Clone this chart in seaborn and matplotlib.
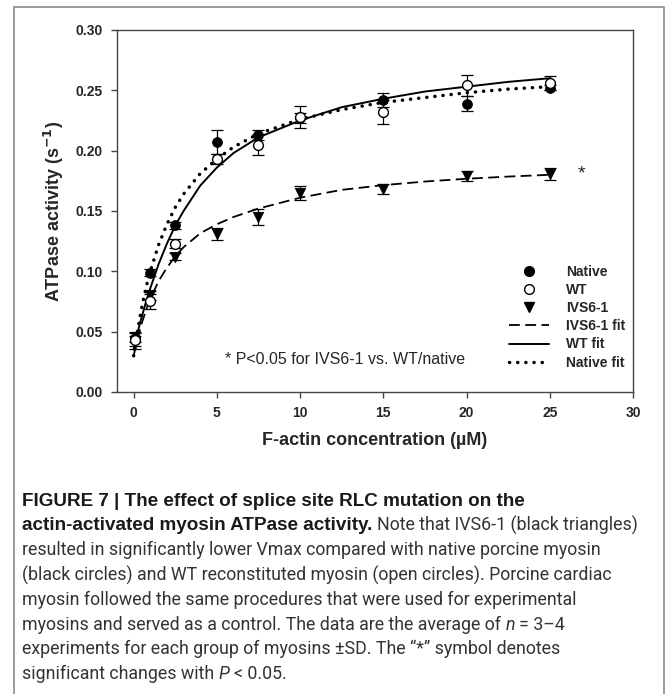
import numpy as np
import pandas as pd
import matplotlib
matplotlib.use("Agg")
import matplotlib.pyplot as plt
import seaborn as sns
from matplotlib.lines import Line2D
from matplotlib.patches import Rectangle

# measured points (F-actin uM) and ATPase activity (1/s), mean and SD
conc = [0.1, 1, 2.5, 5, 7.5, 10, 15, 20, 25]
native = [0.045, 0.099, 0.138, 0.207, 0.213, 0.227, 0.242, 0.239, 0.252]
native_sd = [0.004, 0.003, 0.003, 0.010, 0.004, 0.004, 0.006, 0.006, 0.002]
wt = [0.043, 0.075, 0.123, 0.193, 0.205, 0.228, 0.232, 0.254, 0.256]
wt_sd = [0.007, 0.006, 0.004, 0.004, 0.009, 0.009, 0.010, 0.009, 0.006]
ivs = [0.042, 0.080, 0.112, 0.131, 0.145, 0.165, 0.168, 0.179, 0.181]
ivs_sd = [0.004, 0.004, 0.003, 0.005, 0.007, 0.006, 0.004, 0.004, 0.005]

# fitted curves
fit_x = [0, 0.25, 0.5, 0.75, 1, 1.5, 2, 2.5, 3, 4, 5, 6, 7.5, 10, 12.5, 15, 17.5, 20, 22.5, 25]
native_fit = [0.030, 0.052, 0.071, 0.087, 0.100, 0.122, 0.139, 0.153, 0.164, 0.181, 0.193, 0.203,
              0.214, 0.226, 0.234, 0.240, 0.244, 0.248, 0.251, 0.253]
wt_fit = [0.035, 0.050, 0.063, 0.075, 0.086, 0.106, 0.123, 0.138, 0.150, 0.171, 0.186, 0.198,
          0.211, 0.225, 0.236, 0.243, 0.249, 0.253, 0.257, 0.260]
ivs_fit = [0.030, 0.045, 0.0575, 0.068, 0.077, 0.092, 0.103, 0.1125, 0.120, 0.1315, 0.139, 0.145,
           0.152, 0.161, 0.1675, 0.1714, 0.1744, 0.1767, 0.1785, 0.180]

caption = [
    [("FIGURE 7 | The effect of splice site RLC mutation on the", "bold", "normal")],
    [("actin-activated myosin ATPase activity.", "bold", "normal"),
     ("Note that IVS6-1 (black triangles)", "normal", "normal")],
    [("resulted in significantly lower Vmax compared with native porcine myosin", "normal", "normal")],
    [("(black circles) and WT reconstituted myosin (open circles). Porcine cardiac", "normal", "normal")],
    [("myosin followed the same procedures that were used for experimental", "normal", "normal")],
    [("myosins and served as a control. The data are the average of", "normal", "normal"),
     ("n", "normal", "italic"), ("= 3\u20134", "normal", "normal")],
    [("experiments for each group of myosins \u00b1SD. The \u201c*\u201d symbol denotes", "normal", "normal")],
    [("significant changes with", "normal", "normal"), ("P", "normal", "italic"),
     ("< 0.05.", "normal", "normal")],
]

sns.set_style("ticks")
plt.rcParams['font.family'] = ['Liberation Sans', 'DejaVu Sans']

fig = plt.figure(figsize=(6.69, 6.94), dpi=100)
ax = fig.add_axes([0.1749, 0.4352, 0.7713, 0.5216])

# fit lines
sns.lineplot(x=fit_x, y=ivs_fit, ax=ax, color="k", lw=1.3, linestyle=(0, (6, 3)), zorder=3)
sns.lineplot(x=fit_x, y=wt_fit, ax=ax, color="k", lw=1.4, zorder=3)
sns.lineplot(x=fit_x, y=native_fit, ax=ax, color="k", lw=2.5, linestyle=(0, (0.05, 2.3)),
             dash_capstyle="round", zorder=4)

# error bars + points
for y, sd in [(native, native_sd), (ivs, ivs_sd), (wt, wt_sd)]:
    ax.errorbar(conc, y, yerr=sd, fmt="none", ecolor="k", elinewidth=0.9,
                capsize=4, capthick=0.9, zorder=2)
sns.scatterplot(x=conc, y=native, ax=ax, marker="o", s=50, color="k", edgecolor="k", zorder=5)
sns.scatterplot(x=conc, y=ivs, ax=ax, marker="v", s=55, color="k", edgecolor="k", zorder=5)
sns.scatterplot(x=conc, y=wt, ax=ax, marker="o", s=50, facecolor="white", edgecolor="k",
                linewidth=1, zorder=6)

ax.set_xlim(-1, 30)
ax.set_ylim(0, 0.30)
ax.set_xticks(range(0, 31, 5))
ax.set_yticks(np.arange(0, 0.301, 0.05))
ax.set_yticklabels([f"{v:.2f}" for v in np.arange(0, 0.301, 0.05)])
for sp in ax.spines.values():
    sp.set_visible(True)
    sp.set_color("#444444")
    sp.set_linewidth(1)
ax.tick_params(direction="out", length=4, width=1, color="#444444", labelsize=10, pad=6)
for lab in ax.get_xticklabels() + ax.get_yticklabels():
    lab.set_fontweight("bold")

ax.set_xlabel("F-actin concentration (\u00b5M)", fontsize=13, fontweight="bold", labelpad=9)
ax.set_ylabel("ATPase activity (s$^{\\mathbf{-1}}$)", fontsize=13, fontweight="bold", labelpad=7)

ax.text(26.9, 0.181, "*", fontsize=14, ha="center", va="center")
ax.text(5.5, 0.0265, "* P<0.05 for IVS6-1 vs. WT/native", fontsize=11.5, va="center")

handles = [
    Line2D([], [], ls="none", marker="o", color="k", markersize=7),
    Line2D([], [], ls="none", marker="o", markerfacecolor="white", markeredgecolor="k", markersize=7),
    Line2D([], [], ls="none", marker="v", color="k", markersize=7.5),
    Line2D([], [], color="k", lw=1.3, linestyle=(0, (6, 3))),
    Line2D([], [], color="k", lw=1.4),
    Line2D([], [], color="k", lw=2.5, linestyle=(0, (0.05, 2.3)), dash_capstyle="round"),
]
labels = ["Native", "WT", "IVS6-1", "IVS6-1 fit", "WT fit", "Native fit"]
ax.legend(handles, labels, loc="lower left", bbox_to_anchor=(0.76, 0.062), frameon=False,
          borderpad=0, borderaxespad=0, handlelength=2.9, handletextpad=1.2,
          labelspacing=0.3, prop={"weight": "bold", "size": 10})

# outer frame
fig.patches.append(Rectangle((14 / 669, -0.05), 650 / 669, 1.05 - 7 / 694, transform=fig.transFigure,
                             fill=False, edgecolor="#8a8a8a", lw=1.2))

# caption with mixed styles
fig.canvas.draw()
rend = fig.canvas.get_renderer()
cap_fonts = {"bold": ["Liberation Sans", "DejaVu Sans"], "normal": ["Roboto", "DejaVu Sans"]}
cap_sizes = {"bold": 13.6, "normal": 12.8}
cap_colors = {"bold": "#1a1a1a", "normal": "#333333"}


def text_width(t):
    bb = t.get_window_extent(renderer=rend)
    return bb.width / fig.bbox.width


probe1 = fig.text(0, 0, "x x", fontsize=cap_sizes["normal"], family=cap_fonts["normal"])
probe2 = fig.text(0, 0, "xx", fontsize=cap_sizes["normal"], family=cap_fonts["normal"])
space_w = text_width(probe1) - text_width(probe2)
probe1.remove()
probe2.remove()

y0 = 1 - 501 / 694
dy = 24.7 / 694
for i, runs in enumerate(caption):
    x = 22 / 669
    for txt, weight, style in runs:
        t = fig.text(x, y0 - i * dy, txt, fontsize=cap_sizes[weight], family=cap_fonts[weight],
                     fontweight=weight, fontstyle=style, color=cap_colors[weight],
                     va="center", ha="left")
        x += text_width(t) + space_w

fig.savefig("out.png", dpi=100)
